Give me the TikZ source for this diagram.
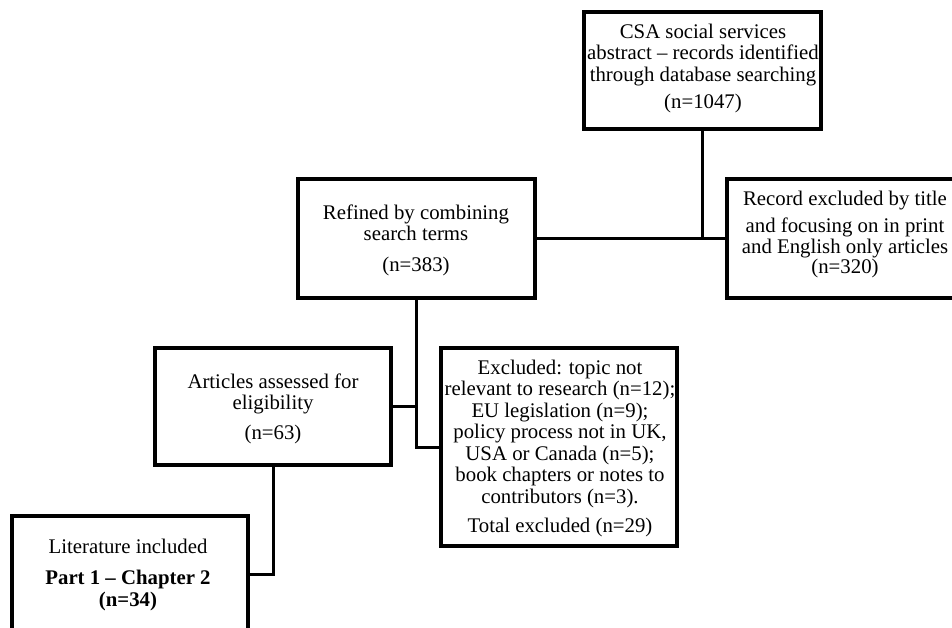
\documentclass[tikz,border=0pt]{standalone}
\usepackage{fontspec}
\setmainfont{Liberation Serif}
\begin{document}
\begin{tikzpicture}[x=1pt,y=-1pt,
  box/.style={draw=black, line width=3.2pt, rectangle, inner sep=0pt},
  link/.style={draw=black, line width=3pt},
  txt/.style={align=center, inner sep=0pt, anchor=base,
    font=\fontsize{20.8}{21.5}\selectfont}]
\useasboundingbox (0,0) rectangle (952,627);

% boxes of the flow chart
\node[box, minimum width=237pt, minimum height=117pt] (csa) at (702.5,70.5) {};
\node[box, minimum width=233pt, minimum height=119pt] (rec) at (843.5,238.5) {};
\node[box, minimum width=237pt, minimum height=119pt] (ref) at (416.5,238.5) {};
\node[box, minimum width=236pt, minimum height=117pt] (art) at (273,406.5) {};
\node[box, minimum width=236pt, minimum height=198pt] (exc) at (559,447) {};
\node[box, minimum width=236pt, minimum height=116pt] (lit) at (130,574) {};

% box texts (anchored on the baseline of their last line)
\node[txt] (csatext) at (703,108) {CSA social services\\abstract -- records identified\\through database searching\\[5.5pt](n=1047)};
\node[txt] (rectext) at (845,273) {Record excluded by title\\[5.5pt]and focusing on in print\\and English only articles\\[-2pt](n=320)};
\node[txt] (reftext) at (416,271) {Refined by combining\\search terms\\[9pt](n=383)};
\node[txt] (arttext) at (273,439) {Articles assessed for\\eligibility\\[8pt](n=63)};
\node[txt] (exctext) at (560,532) {Excluded: topic not\\relevant to research (n=12);\\EU legislation (n=9);\\policy process not in UK,\\USA or Canada (n=5);\\book chapters or notes to\\contributors (n=3).\\[7.5pt]Total excluded (n=29)};
\node[txt] (littext) at (128,606) {Literature included\\[9.5pt]\textbf{Part 1 -- Chapter 2}\\\textbf{(n=34)}};

% connectors
\draw[link] (ref.east) -- (rec.west);
\draw[link] (csa.south) -- (csa.south |- ref.east);
\draw[link] (ref.south) |- (exc.west);
\draw[link] (art.east) -- (art.east -| ref.south);
\draw[link] (art.south) |- (lit.east);
\end{tikzpicture}
\end{document}
